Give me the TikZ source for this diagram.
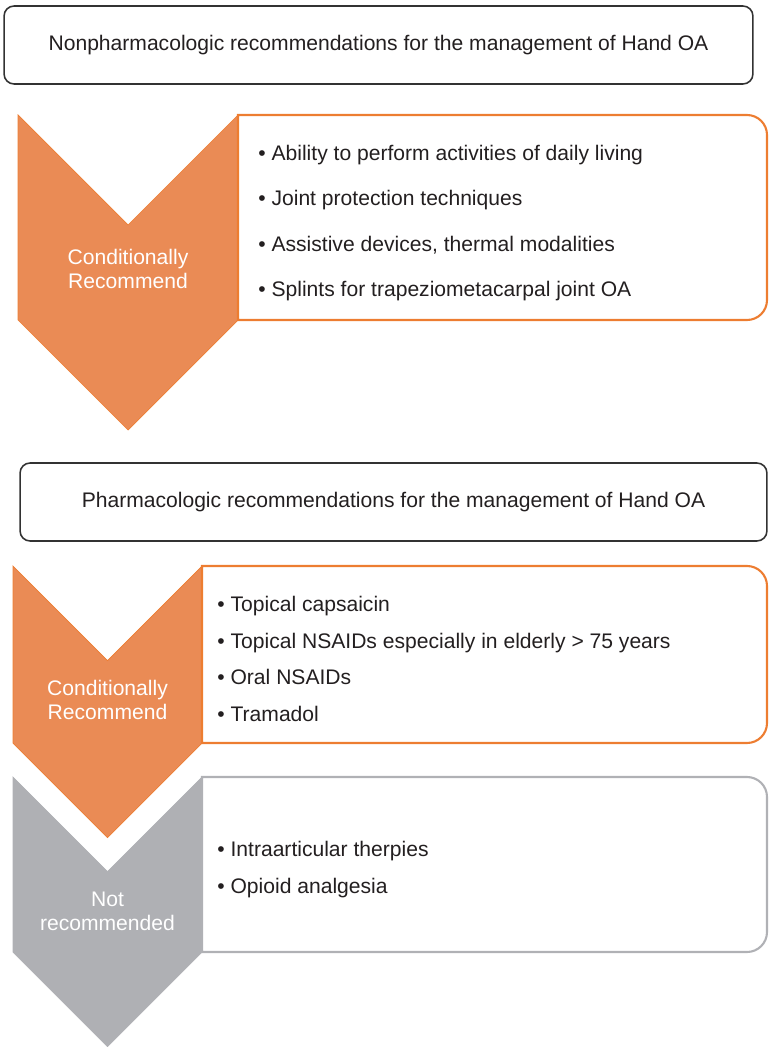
\documentclass[tikz,border=0pt]{standalone}
\usepackage{fontspec}
\setmainfont{Liberation Sans}
\usepackage{xcolor}
\definecolor{handorange}   {RGB}{237,125,49}
\definecolor{handorangefl} {RGB}{234,139,85}
\definecolor{handgray}     {RGB}{176,177,181}
\definecolor{handgrayfl}   {RGB}{175,176,180}
\definecolor{handdark}     {RGB}{35,31,32}
\definecolor{handframe}    {RGB}{50,50,50}

\begin{document}
\begin{tikzpicture}[
  x=0.02cm, y=-0.02cm,
  header/.style={draw=handframe,line width=0.9pt,rounded corners=0.2cm,
                 minimum height=1.56cm,text=handdark,
                 font=\fontsize{12}{14}\selectfont},
  chevO/.style={fill=handorangefl,draw=handorange,line width=0.4pt},
  chevG/.style={fill=handgrayfl,draw=handgray,line width=0.4pt},
  listO/.style={draw=handorange,line width=1.2pt},
  listG/.style={draw=handgray,line width=1.2pt},
  cat/.style={text=white,align=center,font=\fontsize{12}{13.6}\selectfont},
  items/.style={anchor=west,align=left,text=handdark,inner sep=0pt},
]
\useasboundingbox (0,0) rectangle (768,1047);

%% ── Nonpharmacologic part ────────────────────────────────────────────────────
\node[header,minimum width=14.98cm] (nonpharm) at (378.5,45)
  {Nonpharmacologic recommendations for the management of Hand OA};

\fill[chevO] (18,115) -- (128,225) -- (238,115) -- (238,320)
  -- (128,430) -- (18,320) -- cycle;
\draw[listO] (238,115) -- (600,115) [rounded corners=0.4cm] -- (767,115)
  -- (767,320) -- (600,320) [sharp corners] -- (238,320) -- cycle;

\node[cat] (cond1) at (128,269) {Conditionally\\Recommend};
\node[items,font=\fontsize{12}{25.9}\selectfont] (list1) at (258,223)
  {• Ability to perform activities of daily living\\
   • Joint protection techniques\\
   • Assistive devices, thermal modalities\\
   • Splints for trapeziometacarpal joint OA};

%% ── Pharmacologic part ───────────────────────────────────────────────────────
\node[header,minimum width=14.94cm] (pharm) at (393.5,502)
  {Pharmacologic recommendations for the management of Hand OA};

\fill[chevO] (13,566) -- (107.5,660.5) -- (202,566) -- (202,743)
  -- (107.5,837.5) -- (13,743) -- cycle;
\draw[listO] (202,566) -- (600,566) [rounded corners=0.4cm] -- (767,566)
  -- (767,743) -- (600,743) [sharp corners] -- (202,743) -- cycle;

\node[cat] (cond2) at (107.5,700) {Conditionally\\Recommend};
\node[items,font=\fontsize{12}{20.8}\selectfont] (list2) at (217,659)
  {• Topical capsaicin\\
   • Topical NSAIDs especially in elderly > 75 years\\
   • Oral NSAIDs\\
   • Tramadol};

%% ── Not recommended ──────────────────────────────────────────────────────────
\fill[chevG] (13,777) -- (107.5,871.5) -- (202,777) -- (202,952)
  -- (107.5,1046.5) -- (13,952) -- cycle;
\draw[listG] (202,777) -- (600,777) [rounded corners=0.4cm] -- (767,777)
  -- (767,952) -- (600,952) [sharp corners] -- (202,952) -- cycle;

\node[cat] (notrec) at (107.5,911) {Not\\recommended};
\node[items,font=\fontsize{12}{21}\selectfont] (list3) at (217,869.5)
  {• Intraarticular therpies\\
   • Opioid analgesia};

\end{tikzpicture}
\end{document}
